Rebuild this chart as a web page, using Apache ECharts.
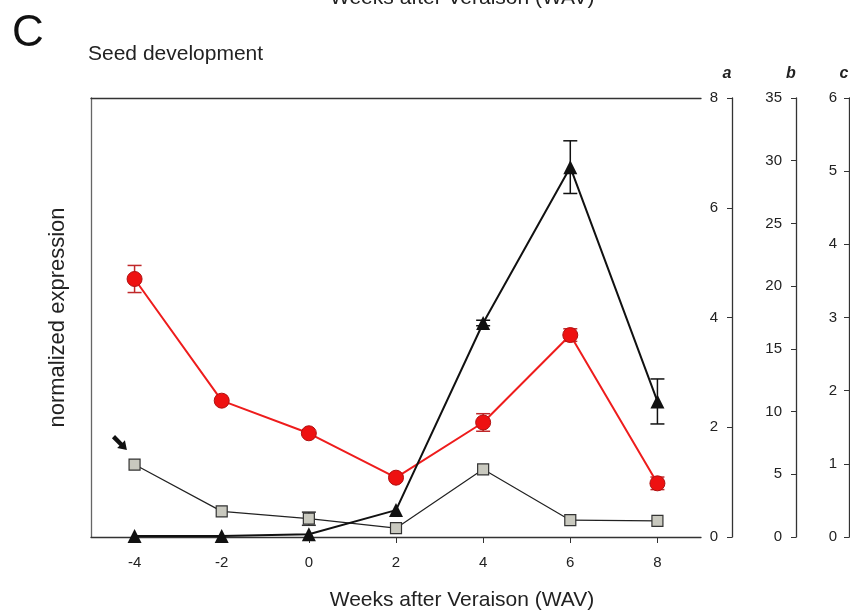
<!DOCTYPE html>
<html>
<head>
<meta charset="utf-8">
<script src="https://cdn.jsdelivr.net/npm/echarts@6/dist/echarts.min.js"></script>
<style>
  html, body { margin: 0; padding: 0; background: #fff; }
  #chart { width: 850px; height: 611px; }
</style>
</head>
<body>
<div id="chart"></div>
<script>
// weeks after veraison
const weeks = [-4, -2, 0, 2, 4, 6, 8];
const xTicks = [-4, -2, 0, 2, 4, 6, 8];
// black triangles, axis a
const triA = [0.02, 0.02, 0.05, 0.49, 3.9, 6.74, 2.47];
const triErr = [0, 0, 0, 0, 0.05, 0.48, 0.41];
// red circles, axis b
const redB = [20.57, 10.87, 8.27, 4.73, 9.13, 16.1, 4.28];
const redErr = [1.08, 0, 0, 0, 0.7, 0.5, 0.5];
// grey squares, axis c
const greyC = [0.99, 0.35, 0.25, 0.12, 0.925, 0.23, 0.22];
const greyErr = [0, 0, 0.09, 0, 0, 0, 0];

const font = 'Liberation Sans, Arial, sans-serif';
const ink = '#222';

function pts(vals) {
    return weeks.map((w, i) => [w, vals[i]]);
}
function errs(vals, e) {
    let out = [];
    weeks.forEach((w, i) => {
        if (e[i] > 0) out.push([w, vals[i] - e[i], vals[i] + e[i]]);
    });
    return out;
}
function errSeries(data, yIdx, color) {
    return {
        type: 'custom',
        xAxisIndex: 0,
        yAxisIndex: yIdx,
        z: 1,
        silent: true,
        data: data,
        renderItem: (params, api) => {
            let lo = api.coord([api.value(0), api.value(1)]);
            let hi = api.coord([api.value(0), api.value(2)]);
            let w = 7;
            let st = { stroke: color, lineWidth: 1.5 };
            return {
                type: 'group',
                children: [
                    { type: 'line', shape: { x1: lo[0], y1: lo[1], x2: hi[0], y2: hi[1] }, style: st },
                    { type: 'line', shape: { x1: lo[0] - w, y1: lo[1], x2: lo[0] + w, y2: lo[1] }, style: st },
                    { type: 'line', shape: { x1: hi[0] - w, y1: hi[1], x2: hi[0] + w, y2: hi[1] }, style: st }
                ]
            };
        }
    };
}
function rightAxis(offset, max, step, label, margin) {
    return {
        type: 'value',
        position: 'right',
        offset: offset,
        min: 0,
        max: max,
        interval: step,
        splitLine: { show: false },
        axisLine: { show: true, onZero: false, lineStyle: { color: '#333', width: 1.3 } },
        axisTick: { show: true, inside: true, length: 5, lineStyle: { color: '#333' } },
        axisLabel: { inside: true, margin: margin, color: ink, fontSize: 15, fontFamily: font },
        name: label,
        nameLocation: 'end',
        nameGap: 16,
        nameTextStyle: { color: ink, fontSize: 16, fontStyle: 'italic', fontWeight: 'bold', fontFamily: font, padding: [0, 10, 0, 0] }
    };
}

const myChart = echarts.init(document.getElementById('chart'));
const option = {
    animation: false,
    backgroundColor: '#fff',
    grid: { left: 91, right: 149, top: 98, bottom: 74, outerBoundsMode: 'none' },
    graphic: [
        { type: 'text', left: 12, top: 12, style: { text: 'C', fontSize: 44, fontFamily: font, fill: '#111' } },
        { type: 'text', left: 88, top: 44, style: { text: 'Seed development', fontSize: 21, fontFamily: font, fill: ink } },
        { type: 'text', left: 330, top: -12, style: { text: 'Weeks after Veraison (WAV)', fontSize: 21, fontFamily: font, fill: ink } }
    ],
    xAxis: [
        {
            type: 'value',
            min: -5,
            max: 9,
            splitLine: { show: false },
            axisLine: { show: true, onZero: false, lineStyle: { color: '#333', width: 1.3 } },
            axisTick: { show: true, length: 6, customValues: xTicks, lineStyle: { color: '#333' } },
            axisLabel: { customValues: xTicks, margin: 18, color: ink, fontSize: 15, fontFamily: font },
            name: 'Weeks after Veraison (WAV)',
            nameLocation: 'middle',
            nameGap: 53,
            nameTextStyle: { color: ink, fontSize: 21, fontFamily: font, padding: [0, 0, 0, 132] }
        },
        {
            type: 'value',
            position: 'top',
            min: -5,
            max: 9,
            splitLine: { show: false },
            axisLine: { show: true, onZero: false, lineStyle: { color: '#333', width: 1.3 } },
            axisTick: { show: false },
            axisLabel: { show: false }
        }
    ],
    yAxis: [
        {
            type: 'value',
            position: 'left',
            min: 0,
            max: 1,
            splitLine: { show: false },
            axisLine: { show: true, onZero: false, lineStyle: { color: '#666', width: 1.3 } },
            axisTick: { show: false },
            axisLabel: { show: false },
            name: 'normalized expression',
            nameLocation: 'middle',
            nameGap: 22,
            nameTextStyle: { color: ink, fontSize: 22, fontFamily: font }
        },
        rightAxis(31, 8, 2, 'a', 14),
        rightAxis(95, 35, 5, 'b', 14),
        rightAxis(148, 6, 1, 'c', 12)
    ],
    series: [
        errSeries(errs(triA, triErr), 1, '#111'),
        errSeries(errs(redB, redErr), 2, '#c0282a'),
        errSeries(errs(greyC, greyErr), 3, '#333'),
        {
            type: 'line',
            yAxisIndex: 3,
            data: pts(greyC),
            symbol: 'rect',
            symbolSize: 11,
            z: 2,
            lineStyle: { color: '#222', width: 1.2 },
            itemStyle: { color: '#c9c9bf', borderColor: '#333', borderWidth: 1.2 },
            markPoint: {
                silent: true,
                label: { show: false },
                data: [{
                    coord: [-4.33, 1.28],
                    symbol: 'path://M5,0 L10,7 L7,7 L7,16 L3,16 L3,7 L0,7 Z',
                    symbolSize: [11, 19],
                    symbolRotate: -135,
                    itemStyle: { color: '#111' }
                }]
            }
        },
        {
            type: 'line',
            yAxisIndex: 2,
            data: pts(redB),
            symbol: 'circle',
            symbolSize: 15,
            z: 3,
            lineStyle: { color: '#ee1c1c', width: 2 },
            itemStyle: { color: '#ee1111', borderColor: '#b01010', borderWidth: 1 }
        },
        {
            type: 'line',
            yAxisIndex: 1,
            data: pts(triA),
            symbol: 'triangle',
            symbolSize: 14,
            z: 4,
            lineStyle: { color: '#111', width: 2 },
            itemStyle: { color: '#111' }
        }
    ]
};
myChart.setOption(option);
</script>
</body>
</html>
